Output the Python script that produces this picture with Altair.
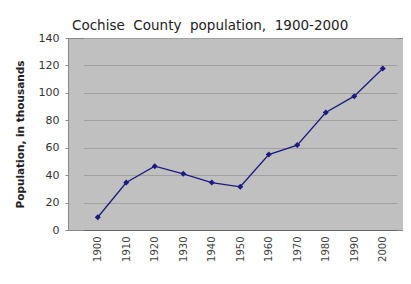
import altair as alt
import pandas as pd

years = ["1900", "1910", "1920", "1930", "1940", "1950", "1960", "1970", "1980", "1990", "2000"]
population = [9.3, 34.6, 46.5, 41.0, 34.6, 31.5, 55.0, 61.9, 85.7, 97.6, 117.8]
title_text = "Cochise\u00a0 County\u00a0 population,\u00a0 1900-2000"

df = pd.DataFrame({"year": years, "pop": population})

FONT = "DejaVu Sans"
COLOR = "#1a1a80"

x = alt.X(
    "year:O",
    sort=years,
    scale=alt.Scale(type="point", range=[15.5, 329]),
    axis=alt.Axis(
        title=None,
        labelAngle=270,
        labelAlign="right",
        labelBaseline="middle",
        labelFont=FONT,
        labelFontSize=10,
        labelColor="#444444",
        labelPadding=6,
        ticks=False,
        domainColor="#666666",
        grid=False,
    ),
)
y = alt.Y(
    "pop:Q",
    scale=alt.Scale(domain=[0, 140], nice=False),
    axis=alt.Axis(
        title="Population, in thousands",
        values=[0, 20, 40, 60, 80, 100, 120, 140],
        titleFont=FONT,
        titleFontSize=10.5,
        titleFontWeight="bold",
        titleColor="#222222",
        titleAngle=270,
        titleX=-48,
        titleY=96,
        titleAlign="center",
        titleBaseline="middle",
        labelFont=FONT,
        labelFontSize=11,
        labelColor="#333333",
        labelPadding=6,
        tickSize=3,
        tickColor="#888888",
        domainColor="#888888",
        gridColor="#a0a0a0",
        gridWidth=1,
    ),
)

line = alt.Chart(df).mark_line(color=COLOR, strokeWidth=1.3).encode(x=x, y=y)
pts = alt.Chart(df).mark_point(shape="diamond", filled=True, size=36, color=COLOR, opacity=1).encode(x=x, y=y)

chart = (
    alt.layer(line, pts)
    .properties(
        width=335,
        height=192,
        autosize=alt.AutoSizeParams(type="none"),
        padding={"left": 60, "top": 30, "right": 0, "bottom": 40},
        title=alt.TitleParams(
            title_text,
            anchor="start",
            frame="group",
            dx=4,
            offset=0,
            font=FONT,
            fontSize=13.5,
            fontWeight="normal",
            color="#222222",
        ),
    )
    .configure(background="white")
    .configure_view(fill="#c0c0c0", stroke="#888888", strokeWidth=1)
)

chart.save("out.html", embed_options={"renderer": "svg", "actions": False})
